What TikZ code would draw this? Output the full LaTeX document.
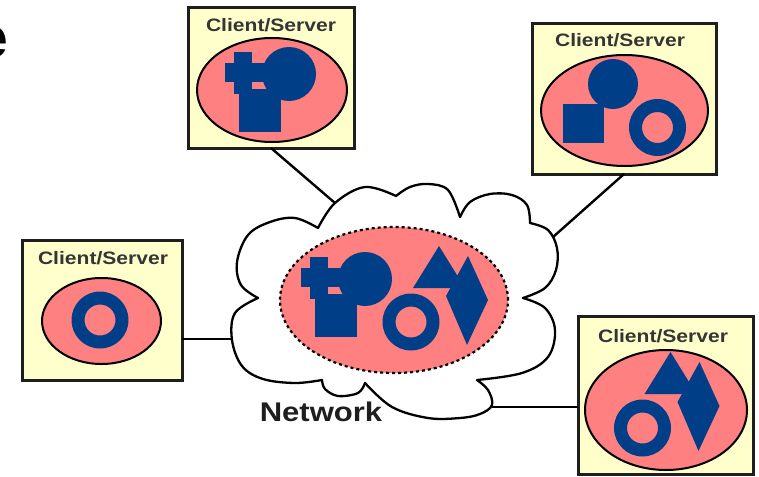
\documentclass[tikz,border=0pt]{standalone}
\usepackage{fontspec}
\setmainfont{Liberation Sans}
\definecolor{navy}{RGB}{0,63,135}
\definecolor{salmon}{RGB}{255,128,128}
\definecolor{paleyellow}{RGB}{255,255,204}
\definecolor{inkgray}{RGB}{30,30,30}
\tikzset{
  csbox/.style={draw=inkgray, line width=3pt, fill=paleyellow, inner sep=0pt, outer sep=0pt},
  cstitle/.style={font=\bfseries\fontsize{18}{18}\selectfont, text=inkgray!90, inner sep=0pt},
  oval/.style={draw=black, line width=2pt, fill=salmon},
  netoval/.style={draw=black, line width=2.2pt, fill=salmon, dash pattern=on 3pt off 3pt},
  link/.style={draw=black, line width=2.4pt},
  puff/.style={draw=black, line width=2.3pt, line join=round, line cap=round},
  tpgroup/.pic={
    \fill[navy] (-55,-22) rectangle (-37,20);
    \fill[navy] (-64,-11) rectangle (-20,8);
    \fill[navy] (-50,15) rectangle (-8,58);
    \fill[navy] (0,0) circle[radius=27pt];
  },
  ringshape/.pic={
    \fill[navy, even odd rule] (0,0) circle[radius=28.5pt] (0,0) circle[radius=15.5pt];
  },
  ttdgroup/.pic={
    \fill[navy] (28,-76) -- (54,-34) -- (2,-34) -- cycle;
    \fill[navy] (57,-66) -- (77,-22) -- (56,23) -- (35,-26) -- cycle;
    \pic at (0,0) {ringshape};
  },
}
\begin{document}
\begin{tikzpicture}[x=1pt, y=-1pt]
\useasboundingbox (0,0) rectangle (759,476);

% cropped title fragment
\node[font=\bfseries\fontsize{57}{57}\selectfont, anchor=base east, inner sep=0pt] (frag) at (8,58) {e};

% cloud attachment points
\coordinate (c1) at (335,203);
\coordinate (c2) at (553,237);
\coordinate (c3) at (232,339);
\coordinate (c4) at (492,407);

% cloud outline
\draw[puff] plot[smooth, tension=0.6] coordinates {(318,228) (335,203) (365,187) (396,196)};
\draw[puff] plot[smooth, tension=0.6] coordinates {(396,196) (410,187) (428,184) (448,190) (460,217)};
\draw[puff] plot[smooth, tension=0.6] coordinates {(460,217) (470,202) (490,194) (512,195) (527,205) (530,223)};
\draw[puff] plot[smooth, tension=0.6] coordinates {(530,223) (548,230) (557,248) (556,270) (545,288) (523,298)};
\draw[puff] plot[smooth, tension=0.6] coordinates {(523,298) (545,308) (555,330) (548,357) (522,373) (477,380)};
\draw[puff] plot[smooth, tension=0.6] coordinates {(477,380) (488,390) (492,405) (480,414) (460,418) (428,418) (392,407) (365,383)};
\draw[puff] plot[smooth, tension=0.6] coordinates {(365,383) (358,393) (338,396) (325,389) (322,380)};
\draw[puff] plot[smooth, tension=0.6] coordinates {(322,380) (295,383) (263,379) (242,366) (232,340) (235,313) (258,298)};
\draw[puff] plot[smooth, tension=0.6] coordinates {(258,298) (241,285) (237,262) (248,235) (270,222) (295,218) (318,228)};

% network content
\path[netoval] (394,300) ellipse[x radius=114pt, y radius=73pt];
\pic at (365,279) {tpgroup};
\pic at (411,322) {ttdgroup};
\node[font=\bfseries\fontsize{27}{27}\selectfont, text=inkgray, inner sep=0pt] (net) at (321,412) {\scalebox{1.15}[1]{Network}};

% client/server boxes
\node[csbox, minimum width=166pt, minimum height=140pt] (b1) at (271,78) {};
\node[csbox, minimum width=184pt, minimum height=150pt] (b2) at (624,99) {};
\node[csbox, minimum width=160pt, minimum height=140pt] (b3) at (102,310) {};
\node[csbox, minimum width=175pt, minimum height=158pt] (b4) at (665.5,395) {};

\node[cstitle] (t1) at (271,25) {\scalebox{1.17}[1]{Client/Server}};
\node[cstitle] (t2) at (620,40) {\scalebox{1.17}[1]{Client/Server}};
\node[cstitle] (t3) at (103,258) {\scalebox{1.17}[1]{Client/Server}};
\node[cstitle] (t4) at (663,336) {\scalebox{1.17}[1]{Client/Server}};

\path[oval] (272,90) ellipse[x radius=75pt, y radius=52pt];
\path[oval] (624.5,110.5) ellipse[x radius=83.5pt, y radius=55.5pt];
\path[oval] (101.5,321) ellipse[x radius=59.5pt, y radius=43pt];
\path[oval] (666,410) ellipse[x radius=81pt, y radius=60pt];

% box contents
\pic at (289,74) {tpgroup};
\fill[navy] (613,84) circle[radius=25pt];
\fill[navy] (563,104) rectangle (604,143);
\pic at (657.5,127.5) {ringshape};
\pic at (100,320) {ringshape};
\pic at (642.5,428) {ttdgroup};

% connectors
\draw[link] (b1.south) -- (c1);
\draw[link] (b2.south) -- (c2);
\draw[link] (b3.east |- c3) -- (c3);
\draw[link] (c4) -- (b4.west |- c4);
\end{tikzpicture}
\end{document}
